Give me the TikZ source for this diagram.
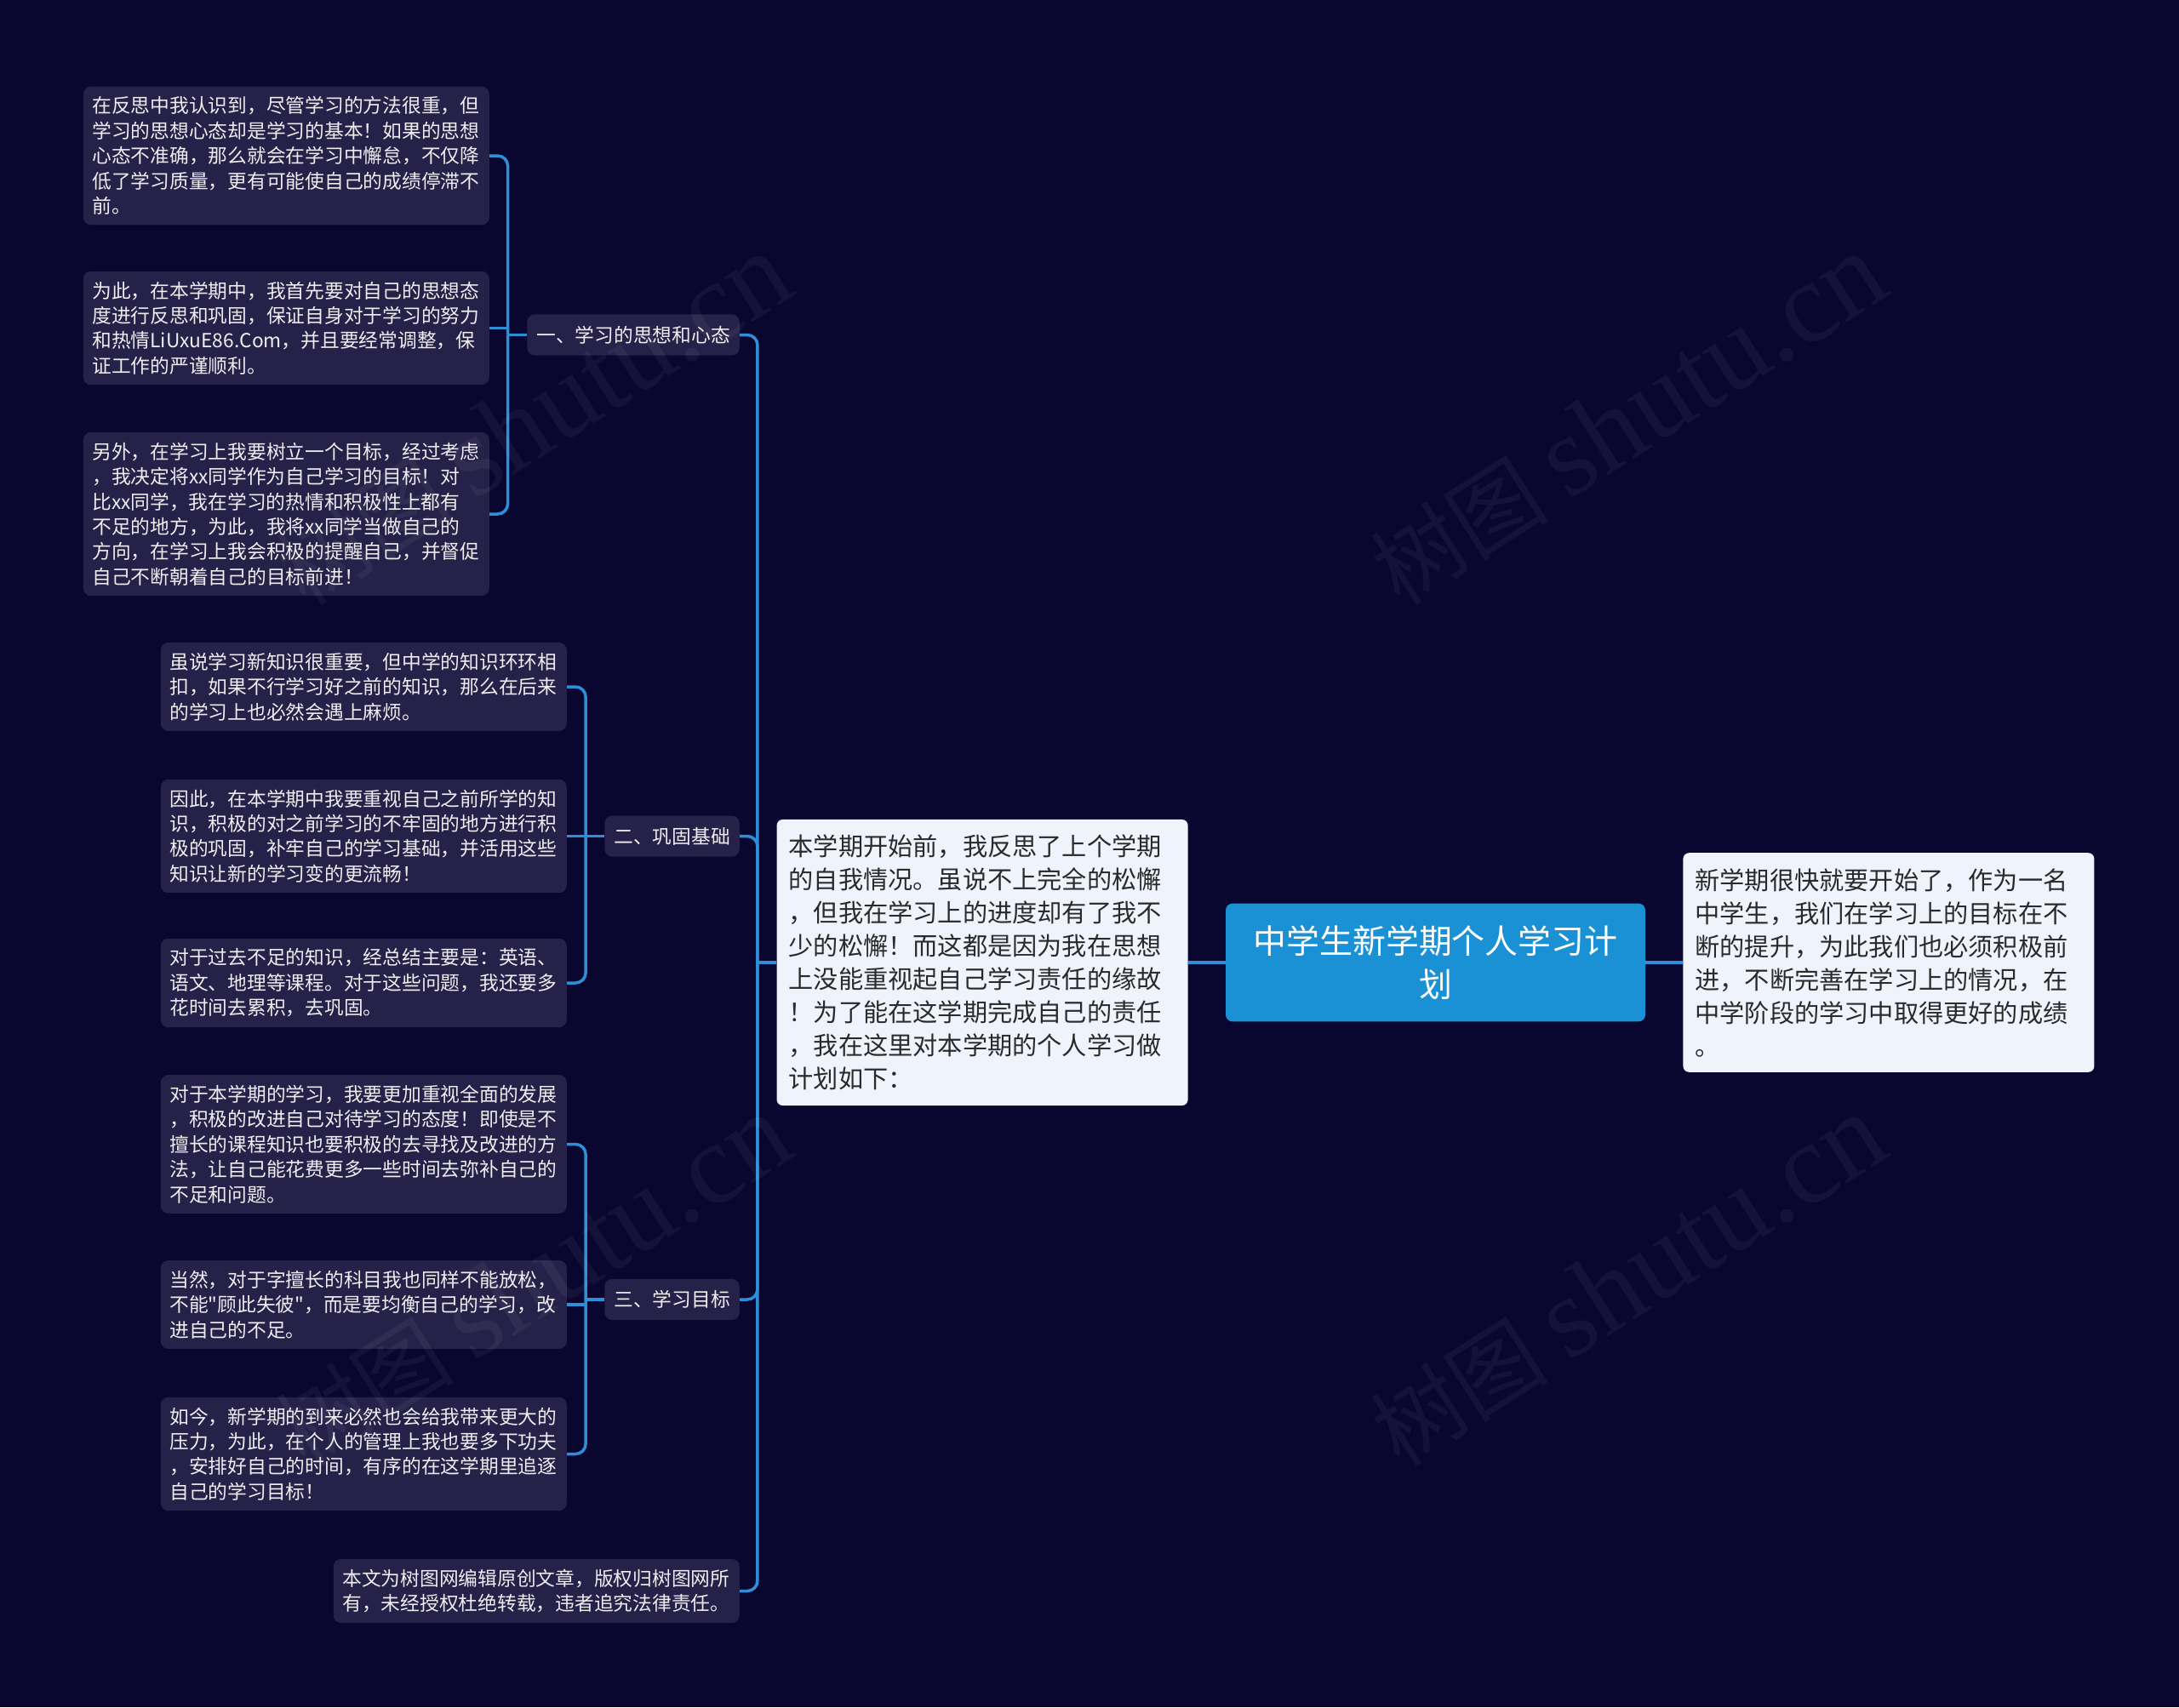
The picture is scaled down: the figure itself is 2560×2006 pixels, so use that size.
\documentclass[tikz,border=0pt]{standalone}
\usepackage{fontspec}
\newfontfamily\cjk{Noto Sans CJK SC}
\newfontfamily\wmserif{Liberation Serif}
\usetikzlibrary{positioning}
\definecolor{Ground}{HTML}{09062F}
\definecolor{Leaf}{HTML}{262148}
\definecolor{Paper}{HTML}{EEF3FC}
\definecolor{Root}{HTML}{1B91D5}
\definecolor{Wire}{HTML}{2E8FD8}
\definecolor{Ink}{HTML}{2A2A2A}

\begin{document}
\begin{tikzpicture}[x=1pt,y=-1pt,
 leaf/.style={fill=Leaf,text=white!92!Leaf,rounded corners=9pt,font=\cjk\fontsize{22.75pt}{29.4pt}\selectfont,text width=456pt,inner xsep=10.5pt,inner ysep=12pt,align=left,anchor=east},
 lab/.style={fill=Leaf,text=white!92!Leaf,rounded corners=9pt,font=\cjk\fontsize{22.75pt}{29.4pt}\selectfont,inner xsep=11pt,inner ysep=13.5pt,anchor=east},
 card/.style={fill=Paper,text=Ink,rounded corners=7pt,font=\cjk\fontsize{29.2pt}{39pt}\selectfont,text width=455pt,inner xsep=14pt,inner ysep=18pt,align=left},
 hub/.style={fill=Root,text=white,rounded corners=8pt,font=\cjk\fontsize{38.9pt}{50.6pt}\selectfont,text width=461pt,inner xsep=16pt,inner ysep=26pt,align=center},
 wire/.style={draw=Wire,line width=3.5pt,rounded corners=12pt},
 wm/.style={white,opacity=0.05,rotate=32.5,anchor=base west,inner sep=0pt}
]
\useasboundingbox (0,0) rectangle (2560,2006);
\fill[Ground] (0,0) rectangle (2560,2006);

% centre
\node[hub] (root) at (1686.5,1131) {中学生新学期个人学习计\\划};
\node[card,left=44pt of root] (intro) {本学期开始前，我反思了上个学期\\的自我情况。虽说不上完全的松懈\\，但我在学习上的进度却有了我不\\少的松懈！而这都是因为我在思想\\上没能重视起自己学习责任的缘故\\！为了能在这学期完成自己的责任\\，我在这里对本学期的个人学习做\\计划如下：};
\node[card,right=44pt of root] (outlook) {新学期很快就要开始了，作为一名\\中学生，我们在学习上的目标在不\\断的提升，为此我们也必须积极前\\进，不断完善在学习上的情况，在\\中学阶段的学习中取得更好的成绩\\。};

% branches
\node[lab] (mind) at (869,393.5) {一、学习的思想和心态};
\node[lab] (base) at (869,982.5) {二、巩固基础};
\node[lab] (goal) at (869,1527) {三、学习目标};
\node[leaf,text width=456pt] (note) at (869,1869.5) {本文为树图网编辑原创文章，版权归树图网所\\有，未经授权杜绝转载，违者追究法律责任。};

% leaves of mind
\node[leaf] (mindA) at (575,183) {在反思中我认识到，尽管学习的方法很重，但\\学习的思想心态却是学习的基本！如果的思想\\心态不准确，那么就会在学习中懈怠，不仅降\\低了学习质量，更有可能使自己的成绩停滞不\\前。};
\node[leaf] (mindB) at (575,385.5) {为此，在本学期中，我首先要对自己的思想态\\度进行反思和巩固，保证自身对于学习的努力\\和热情LiUxuE86.Com，并且要经常调整，保\\证工作的严谨顺利。};
\node[leaf] (mindC) at (575,604) {另外，在学习上我要树立一个目标，经过考虑\\，我决定将xx同学作为自己学习的目标！对\\比xx同学，我在学习的热情和积极性上都有\\不足的地方，为此，我将xx同学当做自己的\\方向，在学习上我会积极的提醒自己，并督促\\自己不断朝着自己的目标前进！};

% leaves of base
\node[leaf] (baseA) at (666,807) {虽说学习新知识很重要，但中学的知识环环相\\扣，如果不行学习好之前的知识，那么在后来\\的学习上也必然会遇上麻烦。};
\node[leaf] (baseB) at (666,982.5) {因此，在本学期中我要重视自己之前所学的知\\识，积极的对之前学习的不牢固的地方进行积\\极的巩固，补牢自己的学习基础，并活用这些\\知识让新的学习变的更流畅！};
\node[leaf] (baseC) at (666,1155) {对于过去不足的知识，经总结主要是：英语、\\语文、地理等课程。对于这些问题，我还要多\\花时间去累积，去巩固。};

% leaves of goal
\node[leaf] (goalA) at (666,1344.5) {对于本学期的学习，我要更加重视全面的发展\\，积极的改进自己对待学习的态度！即使是不\\擅长的课程知识也要积极的去寻找及改进的方\\法，让自己能花费更多一些时间去弥补自己的\\不足和问题。};
\node[leaf] (goalB) at (666,1533) {当然，对于字擅长的科目我也同样不能放松，\\不能"顾此失彼"，而是要均衡自己的学习，改\\进自己的不足。};
\node[leaf] (goalC) at (666,1708.5) {如今，新学期的到来必然也会给我带来更大的\\压力，为此，在个人的管理上我也要多下功夫\\，安排好自己的时间，有序的在这学期里追逐\\自己的学习目标！};

% connectors
\coordinate (trunk) at ([xshift=-22.5pt]intro.west);
\draw[wire] (root.west) -- (intro.east);
\draw[wire] (root.east) -- (outlook.west);
\draw[wire] (intro.west) -- (trunk);
\draw[wire] (trunk) |- (mind.east);
\draw[wire] (trunk) |- (base.east);
\draw[wire] (trunk) |- (goal.east);
\draw[wire] (trunk) |- (note.east);

\coordinate (jmind) at ([xshift=-22.5pt]mind.west);
\draw[wire] (mind.west) -- (jmind);
\draw[wire] (jmind) |- (mindA.east);
\draw[wire] (jmind) |- (mindC.east);
\draw[wire] (mindB.east) -- (mindB.east -| jmind);

\coordinate (jbase) at ([xshift=-22pt]base.west);
\draw[wire] (base.west) -- (baseB.east);
\draw[wire] (jbase) |- (baseA.east);
\draw[wire] (jbase) |- (baseC.east);

\coordinate (jgoal) at ([xshift=-22pt]goal.west);
\draw[wire] (goal.west) -- (jgoal);
\draw[wire] (jgoal) |- (goalA.east);
\draw[wire] (jgoal) |- (goalC.east);
\draw[wire] (goalB.east) -- (goalB.east -| jgoal);

% watermarks
\foreach \wx/\wy [count=\i] in {359/714,1645/714,359/1726,1645/1726}
  \node[wm] (wm\i) at (\wx,\wy) {\cjk\fontsize{105pt}{105pt}\selectfont 树图\ \wmserif\fontsize{135pt}{135pt}\selectfont shutu.cn};
\end{tikzpicture}
\end{document}
